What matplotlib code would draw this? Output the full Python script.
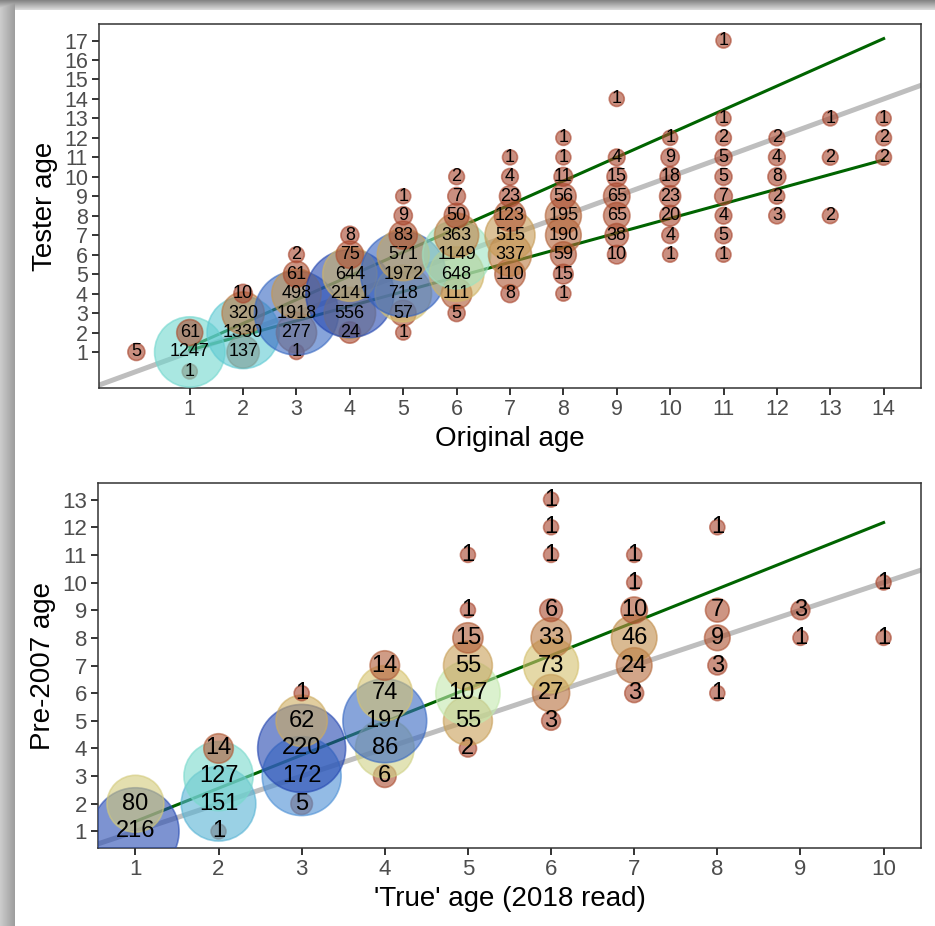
import numpy as np
import matplotlib.pyplot as plt
from matplotlib.colors import LinearSegmentedColormap

plt.rcParams['font.family'] = ['Liberation Sans', 'DejaVu Sans']

# top panel: original age vs tester age, number of fish at each pair
orig_age = [0,
            1, 1, 1,
            2, 2, 2, 2,
            3, 3, 3, 3, 3, 3,
            4, 4, 4, 4, 4, 4,
            5, 5, 5, 5, 5, 5, 5, 5,
            6, 6, 6, 6, 6, 6, 6, 6,
            7, 7, 7, 7, 7, 7, 7, 7,
            8, 8, 8, 8, 8, 8, 8, 8, 8,
            9, 9, 9, 9, 9, 9, 9,
            10, 10, 10, 10, 10, 10, 10,
            11, 11, 11, 11, 11, 11, 11, 11, 11,
            12, 12, 12, 12, 12,
            13, 13, 13,
            14, 14, 14]
tester_age = [1,
              0, 1, 2,
              1, 2, 3, 4,
              1, 2, 3, 4, 5, 6,
              2, 3, 4, 5, 6, 7,
              2, 3, 4, 5, 6, 7, 8, 9,
              3, 4, 5, 6, 7, 8, 9, 10,
              4, 5, 6, 7, 8, 9, 10, 11,
              4, 5, 6, 7, 8, 9, 10, 11, 12,
              6, 7, 8, 9, 10, 11, 14,
              6, 7, 8, 9, 10, 11, 12,
              6, 7, 8, 9, 10, 11, 12, 13, 17,
              8, 9, 10, 11, 12,
              8, 11, 13,
              11, 12, 13]
tester_n = [5,
            1, 1247, 61,
            137, 1330, 320, 10,
            1, 277, 1918, 498, 61, 2,
            24, 556, 2141, 644, 75, 8,
            1, 57, 718, 1972, 571, 83, 9, 1,
            5, 111, 648, 1149, 363, 50, 7, 2,
            8, 110, 337, 515, 123, 23, 4, 1,
            1, 15, 59, 190, 195, 56, 11, 1, 1,
            10, 38, 65, 65, 15, 4, 1,
            1, 4, 20, 23, 18, 9, 1,
            1, 5, 4, 7, 5, 5, 2, 1, 1,
            3, 2, 8, 4, 2,
            2, 2, 1,
            2, 2, 1]

# bottom panel: 2018 read vs pre-2007 age
true_age = [1, 1,
            2, 2, 2, 2,
            3, 3, 3, 3, 3,
            4, 4, 4, 4, 4,
            5, 5, 5, 5, 5, 5, 5,
            6, 6, 6, 6, 6, 6, 6, 6,
            7, 7, 7, 7, 7, 7,
            8, 8, 8, 8, 8,
            9, 9,
            10, 10]
pre_age = [1, 2,
           1, 2, 3, 4,
           2, 3, 4, 5, 6,
           3, 4, 5, 6, 7,
           4, 5, 6, 7, 8, 9, 11,
           5, 6, 7, 8, 9, 11, 12, 13,
           6, 7, 8, 9, 10, 11,
           6, 7, 8, 9, 12,
           8, 9,
           8, 10]
pre_n = [216, 80,
         1, 151, 127, 14,
         5, 172, 220, 62, 1,
         6, 86, 197, 74, 14,
         2, 55, 107, 55, 15, 1, 1,
         3, 27, 73, 33, 6, 1, 1, 1,
         3, 24, 46, 10, 1, 1,
         1, 3, 9, 7, 1,
         1, 3,
         1, 1]

# green fit lines
top_fit_x = [1, 14]
top_fit_upper = [1.25, 17.1]
top_fit_lower = [1.1, 10.87]
bottom_fit_x = [1, 10]
bottom_fit_y = [1.36, 12.17]

cmap = LinearSegmentedColormap.from_list('bubbles', [
    (0.0, '#A8442C'), (0.2, '#C08A48'), (0.34, '#D6C470'),
    (0.5, '#C2EDB4'), (0.6, '#62D3D3'), (0.78, '#4C90D6'), (1.0, '#2446B0')])


def bubbles(ax, x, y, n, fs):
    # drawn in data order (by x, then y) like the original
    x = np.array(x); y = np.array(y); n = np.array(n, dtype=float)
    frac = (np.sqrt(n) - 1) / (np.sqrt(n.max()) - 1)
    d_px = 15 + (88 - 15) * frac
    sizes = (d_px * 0.72) ** 2
    cols = cmap(n / n.max())
    ax.scatter(x, y, s=sizes, c=cols, alpha=0.6, edgecolors=cols,
               linewidths=1.2, zorder=3)
    for xi, yi, ni in zip(x, y, n):
        ax.text(xi, yi, '%d' % ni, ha='center', va='center', fontsize=fs,
                color='black', zorder=5)


def style(ax, tick_fs):
    for sp in ax.spines.values():
        sp.set_color('#333333')
        sp.set_linewidth(1.1)
    ax.tick_params(direction='out', length=5, width=1.4, color='#333333',
                   labelcolor='#4D4D4D', labelsize=tick_fs, pad=3)


fig = plt.figure(figsize=(9.35, 9.26), dpi=100)

# shadow frame on the top and left edges
H, W = 926, 935
img = np.ones((H, W))
img[:10, :] = np.minimum(img[:10, :], np.linspace(0.52, 0.85, 10)[:, None])
img[:, :15] = np.minimum(img[:, :15], np.linspace(0.80, 0.62, 15)[None, :])
bg = fig.add_axes([0, 0, 1, 1], zorder=-10)
bg.imshow(img, cmap='gray', vmin=0, vmax=1, aspect='auto', interpolation='bilinear')
bg.axis('off')

# top panel
ax1 = fig.add_axes([99 / W, 1 - 388 / H, (921 - 99) / W, (388 - 24) / H])
ax1.axline((0, 0), slope=1, color='#BEBEBE', lw=3.6, zorder=1)
ax1.plot(top_fit_x, top_fit_upper, color='#006400', lw=2.2, zorder=2)
ax1.plot(top_fit_x, top_fit_lower, color='#006400', lw=2.2, zorder=2)
bubbles(ax1, orig_age, tester_age, tester_n, 13)
ax1.set_xlim(-0.7, 14.7)
ax1.set_ylim(-0.85, 17.85)
ax1.set_xticks(range(1, 15))
ax1.set_yticks(range(1, 18))
style(ax1, 15.5)
ax1.set_xlabel('Original age', fontsize=20, labelpad=4)
ax1.set_ylabel('Tester age', fontsize=20, labelpad=4)

# bottom panel
ax2 = fig.add_axes([98 / W, 1 - 848 / H, (921 - 98) / W, (848 - 483) / H])
ax2.axline((0, 0), slope=1, color='#BEBEBE', lw=3.6, zorder=1)
ax2.plot(bottom_fit_x, bottom_fit_y, color='#006400', lw=2.2, zorder=2)
bubbles(ax2, true_age, pre_age, pre_n, 17)
ax2.set_xlim(0.55, 10.45)
ax2.set_ylim(0.4, 13.6)
ax2.set_xticks(range(1, 11))
ax2.set_yticks(range(1, 14))
style(ax2, 16)
ax2.set_xlabel("'True' age (2018 read)", fontsize=20, labelpad=4)
ax2.set_ylabel('Pre-2007 age', fontsize=20, labelpad=4)

fig.savefig('out.png', dpi=100)
